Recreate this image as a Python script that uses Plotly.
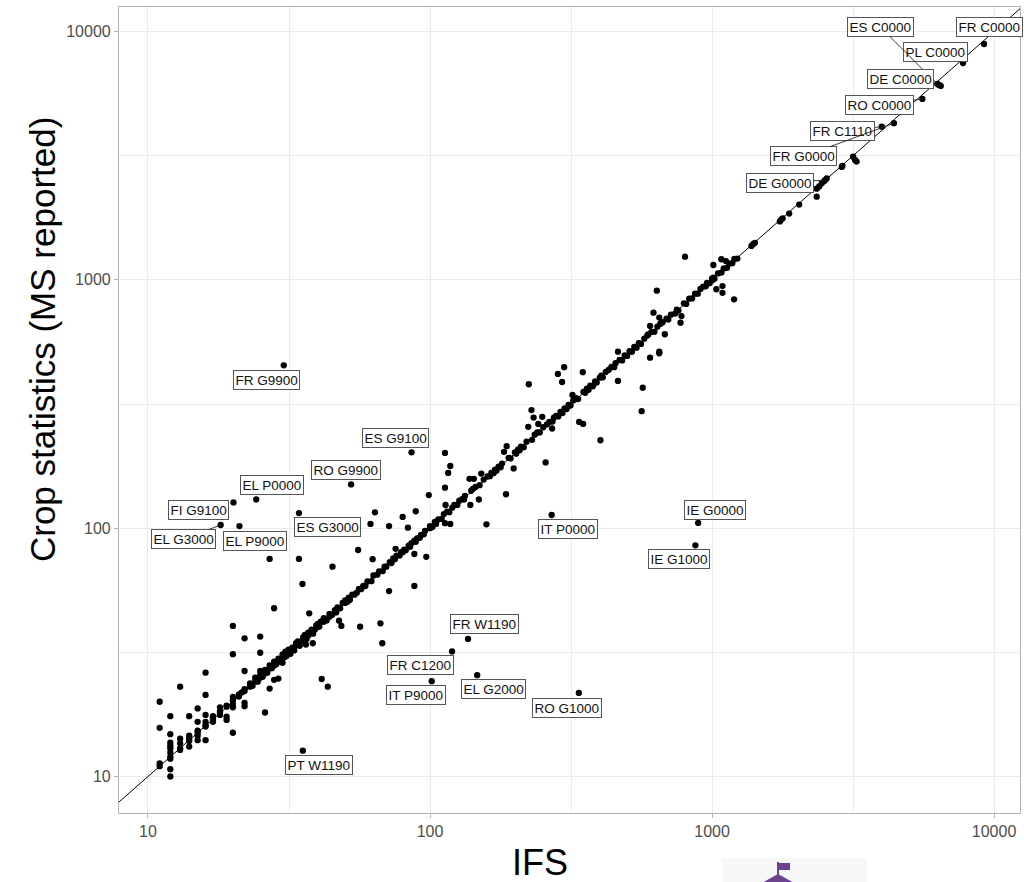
import numpy as np
import plotly.graph_objects as go

# ---------------- data (IFS vs MS reported, 1000 ha) ----------------
ifs = [11, 11, 11, 11,
       12, 12, 12, 12, 12, 12, 12, 12, 12, 12,
       13, 13, 13, 13, 13,
       14, 14, 14, 14, 14,
       15, 15, 15, 15, 15, 15,
       16, 16, 16, 16, 16, 16, 16,
       17, 17, 17, 17,
       18, 18, 18, 18,
       19, 19, 19, 19,
       20, 20, 20, 20, 20, 20, 20,
       21, 21, 21.5,
       22, 22, 22, 22, 22, 22,
       23, 23, 23.5,
       24, 24, 24.5,
       25, 25, 25, 25, 25, 25.5,
       26, 26, 26, 26.5,
       27, 27, 27, 27, 27.5,
       28, 28, 28, 28, 28.5,
       29, 29, 29, 29.5,
       30, 30, 30, 30.5, 30.7, 31,
       31, 31.5, 32, 32, 32.5,
       33, 33, 33.5,
       34.3, 34, 34.5,
       35.3, 35, 35.5,
       36.3, 36, 36.5,
       37, 37, 37.3,
       38.4, 38, 38.5,
       39, 39.5,
       40, 40, 40.5,
       41.3, 43.4,
       41, 42, 42, 43,
       44, 44, 45.1, 45, 46, 46.5,
       47.6, 47, 48, 48.5, 49,
       50, 50, 51, 51.5,
       52, 53, 54,
       55, 55.6, 56, 56.5, 57,
       58, 59, 60, 61.5, 62, 62.6, 63, 63.8,
       65, 66, 66.7, 67.7, 68, 69,
       70, 71.6, 71.6, 72, 73, 74,
       75, 75.5, 76, 78, 79,
       80, 80, 81, 83.5, 82, 84,
       85, 86,
       88, 88, 88, 89, 89,
       90, 92, 93, 95, 96, 97,
       99, 100, 100, 102, 104,
       105, 107, 110, 112,
       113, 113, 113.5, 113, 116, 118, 118,
       115, 117, 120, 122, 125, 127,
       130, 132, 133,
       138, 139, 143, 140, 142,
       149, 145, 150, 152, 155, 158.5,
       160, 163, 165, 168, 170, 172, 175, 178,
       180, 183, 186, 187, 190, 193,
       198, 200, 202, 205, 208, 210, 215,
       220, 223, 224, 229, 233, 230, 235,
       242, 240, 245, 250, 252, 257,
       260, 265, 271, 272, 275,
       280, 284, 285, 290, 294, 295, 299,
       300, 305, 310, 315, 320, 322,
       330, 335, 338, 349, 348,
       350, 355, 360, 365, 370, 378,
       385, 390, 400, 402, 405, 410, 420,
       430, 440, 450, 455, 464, 464,
       470, 480, 490, 500, 510, 520, 530, 540,
       550, 563, 568, 560, 575, 594, 590,
       603, 603, 610, 620, 625,
       637, 640, 650, 650, 650, 655, 661, 668, 680,
       690, 700, 715, 740, 750, 760, 773, 779,
       795, 802, 810, 830, 850, 870, 890, 910,
       1036, 1089, 1089, 1197,
       930, 950, 960, 980, 1000, 1000, 1010, 1011, 1020, 1050, 1079, 1120,
       1080, 1100, 1130, 1150, 1180, 1200, 1230,
       1380, 1400, 1420,
       1740, 1760, 1780, 1877, 2037, 2350,
       2350, 2400, 2450, 2500, 2550,
       2884, 2900, 3165, 3215, 3254, 6380]

ms = [20, 15.7, 11.3, 11.0,
      17.5, 14.8, 13.7, 13.3, 13.0, 12.5, 12.0, 11.8, 10.7, 10.0,
      23, 14.2, 13.6, 13.0, 12.8,
      17.5, 14.6, 14.2, 13.9, 13.2,
      18.8, 16.6, 15.3, 14.6, 14.0, 15.0,
      26.2, 21.3, 17.7, 16.6, 15.9, 16.1, 14.0,
      17.0, 17.5, 16.6, 17.3,
      19.0, 18.3, 17.7, 18.0,
      19.1, 17.4, 16.9, 19.3,
      40.4, 31.1, 20.9, 19.6, 19.0, 20.3, 15.0,
      21.0, 21.4, 21.8,
      36, 26.6, 22.1, 22.5, 19.2, 19.8,
      23.0, 23.7, 23.2,
      24.2, 25.0, 24.1,
      36.6, 31.5, 25.0, 25.6, 26.6, 25.2,
      18.1, 26.0, 26.9, 26.2,
      27.2, 75.2, 28.0, 22.6, 27.3,
      28.0, 47.6, 24.5, 29.0, 28.3,
      29.0, 24.8, 29.8, 29.2,
      30, 28.7, 31.0, 30.2, 31.8, 30.6,
      31, 32.4, 32, 31.2, 33.0,
      33, 32.2, 34.4,
      75.2, 35.0, 33.6,
      59.6, 35, 36.4,
      34, 37.2, 35.8,
      37, 38.0, 45.4,
      34.4, 39.0, 37.6,
      39, 40.6,
      40, 41.2, 40.2,
      24.7, 23.0,
      42.0, 42, 43.4, 42.5,
      44, 45.2, 70, 44.8, 46.8, 45.8,
      42.4, 48.0, 47.6, 40.4, 50.0,
      50, 51.2, 50.5, 52.5,
      51.5, 54, 54.0,
      55, 81.7, 57, 40.1, 56.8,
      58.6, 58.5, 61, 104, 61.2, 75, 64.5, 115.9,
      65, 67, 41.4, 34.4, 67.2, 70,
      70, 102, 55.8, 73, 72.4, 75.5,
      75, 82.6, 77.5, 77.6, 80,
      80, 111, 82, 100.5, 81.5, 85,
      84.2, 87,
      78.7, 58.5, 89, 117, 88.2,
      91, 91.5, 94, 94.5, 97.5, 76.7,
      136, 100, 102, 101, 106,
      104, 108.5, 109, 114,
      201, 145.6, 124, 104.8, 167, 178, 104,
      116.5, 116, 121, 124, 124, 129,
      131, 130.5, 135,
      158, 124, 158, 141.5, 144,
      130.5, 146.5, 149, 166, 157, 103.7,
      161.5, 162, 167, 166.5, 172, 170.5, 177, 176,
      182, 203, 137, 214, 192, 191,
      174, 202, 199.5, 207, 206, 213, 212,
      223, 256, 380, 299, 279, 227, 238,
      263, 243, 243, 281, 255, 184,
      262, 268, 252, 269, 279,
      283, 418, 282, 294, 388, 291, 445,
      304, 302, 314, 312, 344, 327,
      334, 331, 268, 263, 425,
      354, 351, 365, 361, 375, 373,
      390, 386, 404, 226, 411, 405, 426,
      434, 446, 445, 462, 514, 392,
      476, 474, 496, 494, 517, 513, 537, 533,
      556, 296, 368, 552, 580, 603, 597,
      652, 486, 617, 738, 618,
      905, 648, 705, 514, 506, 665, 670, 675, 604,
      698, 692, 724, 732, 758, 752, 672, 715,
      805, 1240, 800, 840, 842, 880, 880, 920,
      917, 944, 887, 835,
      940, 942, 972, 970, 1012, 995, 1022, 1148, 1010, 1062, 1211, 1191,
      1070, 1112, 1118, 1162, 1168, 1214, 1218,
      1370, 1395, 1410,
      1720, 1750, 1770, 1850, 2010, 2163,
      2330, 2380, 2450, 2500, 2560,
      2850, 2880, 3133, 3042, 2995, 6100]

# labelled country / crop points
label_names = ["FR G9900", "ES G9100", "RO G9900", "EL P0000", "FI G9100",
               "EL G3000", "EL P9000", "ES G3000", "FR W1190", "FR C1200",
               "IT P9000", "EL G2000", "RO G1000", "PT W1190", "IT P0000",
               "IE G0000", "IE G1000", "FR C0000", "PL C0000", "ES C0000",
               "DE C0000", "RO C0000", "FR C1110", "FR G0000", "DE G0000"]
label_ifs = [30.3, 86, 52.5, 24.2, 20.1,
             18.1, 21.1, 34.3, 136.4, 119.7,
             101.4, 147, 337, 35.4, 270,
             893, 873, 9215, 7762, 6295,
             6470, 5570, 3998, 4416, 2517]
label_ms = [453, 202, 150, 130.6, 127,
            103, 102, 115, 35.8, 31.9,
            24.2, 25.6, 21.7, 12.7, 113,
            105, 85.3, 8913, 7474, 6150,
            6040, 5354, 4140, 4275, 2524]

# label placement (pixel offsets of label centre from its point; segment flag)
label_dx = [-17, -16, -5, 16, -35, -37, 16, 29, 16, -32, -16, 16, -12, 16, 16,
            17, -16, 5, -28, -57, -40, -43, -39, -90, -45]
label_dy = [15, -14, -14, -14, 8, 14, 15, 14, -15, 14, 14, 14, 15, 14, 14,
            -13, 14, -17, -11, -57, -7, 6, 4, 33, 3]
label_seg = [False, False, False, False, False, True, False, False, False, False,
             False, False, False, False, False, False, False, False, False, True,
             True, True, True, True, True]

x_ticks = [10, 100, 1000, 10000]
y_ticks = [10, 100, 1000, 10000]
minor_ticks = [3.1623, 31.623, 316.23, 3162.3]

XR = [0.8972, 4.092]
YR = [0.853, 4.099]

FONT = "Liberation Sans, Arial, Helvetica, sans-serif"

fig = go.Figure()

lo, hi = 10 ** XR[0], 10 ** XR[1]
fig.add_trace(go.Scatter(x=[lo, hi], y=[lo, hi], mode="lines",
                         line=dict(color="black", width=1), hoverinfo="skip",
                         showlegend=False))

fig.add_trace(go.Scatter(x=ifs + label_ifs, y=ms + label_ms, mode="markers",
                         marker=dict(color="black", size=6.3, line=dict(width=0)),
                         showlegend=False))

annotations = []
for name, xv, yv, dx, dy, seg in zip(label_names, label_ifs, label_ms,
                                     label_dx, label_dy, label_seg):
    base = dict(x=np.log10(xv), y=np.log10(yv), xref="x", yref="y", text=name,
                font=dict(family=FONT, size=13.5, color="#111111"),
                bgcolor="white", bordercolor="#555555", borderwidth=1,
                borderpad=1.5)
    if seg:
        base.update(showarrow=True, ax=dx, ay=dy, arrowhead=0, arrowwidth=0.9,
                    arrowcolor="#222222", standoff=0)
    else:
        base.update(showarrow=False, xshift=dx, yshift=-dy,
                    xanchor="center", yanchor="middle")
    annotations.append(base)

# axis titles
annotations.append(dict(text="IFS", xref="paper", yref="paper", x=0.467, y=-0.033,
                        xanchor="center", yanchor="top", showarrow=False,
                        font=dict(family=FONT, size=36, color="black")))
annotations.append(dict(text="Crop statistics (MS reported)", xref="paper", yref="paper",
                        x=-0.0855, y=0.588, xanchor="center", yanchor="middle",
                        textangle=-90, showarrow=False,
                        font=dict(family=FONT, size=35, color="black")))

axis_common = dict(type="log", showgrid=True, gridcolor="#ebebeb", gridwidth=1,
                   showline=True, linecolor="#b3b3b3", linewidth=1.2, mirror=True,
                   ticks="outside", ticklen=4, tickcolor="#b3b3b3", tickwidth=1,
                   tickfont=dict(family=FONT, size=16, color="#4d4d4d"),
                   zeroline=False, tickmode="array",
                   minor=dict(tickmode="array", tickvals=minor_ticks, showgrid=True,
                              gridcolor="#ebebeb", gridwidth=1, ticks=""))

fig.update_layout(
    width=1030, height=882,
    margin=dict(l=119, r=10, t=7, b=69),
    paper_bgcolor="white", plot_bgcolor="white",
    xaxis=dict(range=XR, tickvals=x_ticks, ticktext=[str(v) for v in x_ticks], **axis_common),
    yaxis=dict(range=YR, tickvals=y_ticks, ticktext=[str(v) for v in y_ticks], **axis_common),
    annotations=annotations,
    shapes=[
        dict(type="rect", xref="paper", yref="paper", x0=(722 - 119) / 901, x1=(867 - 119) / 901,
             y0=(813 - 882) / 806, y1=(813 - 858) / 806, fillcolor="#f7f7f7",
             line=dict(width=0), layer="below"),
        dict(type="rect", xref="paper", yref="paper", x0=(777 - 119) / 901, x1=(779 - 119) / 901,
             y0=(813 - 876) / 806, y1=(813 - 862) / 806, fillcolor="#6b4190", line=dict(width=0)),
        dict(type="rect", xref="paper", yref="paper", x0=(779 - 119) / 901, x1=(790 - 119) / 901,
             y0=(813 - 870) / 806, y1=(813 - 863) / 806, fillcolor="#6b4190", line=dict(width=0)),
        dict(type="path", xref="paper", yref="paper",
             path="M {a},{b} L {c},{d} L {e},{b} Z".format(
                 a=(760 - 119) / 901, b=(813 - 884) / 806, c=(778 - 119) / 901,
                 d=(813 - 874) / 806, e=(796 - 119) / 901),
             fillcolor="#6b4190", line=dict(width=0)),
    ],
)

fig.write_html("out.html", config={"displayModeBar": False},
               post_script="document.body.style.margin='0';document.body.style.overflow='hidden';")
